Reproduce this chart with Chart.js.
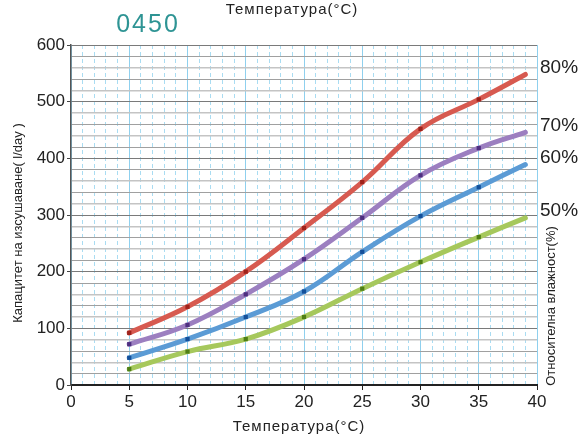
<!DOCTYPE html>
<html>
<head>
<meta charset="utf-8">
<script src="https://cdn.jsdelivr.net/npm/chart.js@4"></script>
<style>
	html, body { margin: 0; padding: 0; background: #fff; }
	#wrap { width: 582px; height: 436px; position: relative; }
</style>
</head>
<body>
<div id="wrap"><canvas id="dryChart" width="582" height="436"></canvas></div>
<script>
// Данни от графиката
const temps = [5, 10, 15, 20, 25, 30, 35, 39];
const rh80 = [92, 138, 200, 277, 358, 452, 504, 548];
const rh70 = [72, 106, 160, 222, 295, 370, 418, 446];
const rh60 = [48, 81, 120, 165, 235, 298, 349, 389];
const rh50 = [28, 59, 81, 120, 170, 217, 261, 295];
const humidityLabels = ['80%', '70%', '60%', '50%'];
const yTicks = [0, 100, 200, 300, 400, 500, 600];

const FONT = "'Liberation Sans', Arial, sans-serif";

function makeSet(label, values, color, dark) {
	return {
		label,
		data: temps.map((t, i) => ({ x: t, y: values[i] })),
		borderColor: color,
		borderWidth: 5,
		tension: 0.4,
		borderCapStyle: 'round',
		pointStyle: 'rect',
		pointRadius: values.map((v, i) => (i === values.length - 1 ? 0 : 3)),
		pointBackgroundColor: dark,
		pointBorderWidth: 0,
		fill: false,
	};
}

// dodatkowe teksty: tytuły osi, etykiety wilgotności
const textPlugin = {
	id: 'texts',
	afterDraw(chart) {
		const { ctx, chartArea, scales } = chart;
		ctx.save();
		ctx.fillStyle = '#222';
		ctx.textAlign = 'center';
		ctx.textBaseline = 'middle';

		ctx.font = '15px ' + FONT;
		ctx.letterSpacing = '1px';
		ctx.fillText('Температура(°C)', 292, 10);
		ctx.fillText('Температура(°C)', 299, 427);

		ctx.fillStyle = '#2e9494';
		ctx.font = '25px ' + FONT;
		ctx.letterSpacing = '2px';
		ctx.fillText('0450', 148, 25);

		ctx.letterSpacing = '0px';
		ctx.fillStyle = '#222';
		ctx.font = '13px ' + FONT;
		ctx.save();
		ctx.translate(18, 223);
		ctx.rotate(-Math.PI / 2);
		ctx.fillText('Капацитет на изсушаване( l/day )', 0, 0);
		ctx.restore();

		ctx.save();
		ctx.translate(551, 306);
		ctx.rotate(-Math.PI / 2);
		ctx.fillText('Относителна влажност(%)', 0, 0);
		ctx.restore();

		// etykiety % przy końcach linii
		ctx.font = '19px ' + FONT;
		ctx.textAlign = 'left';
		chart.data.datasets.forEach((ds, i) => {
			const last = ds.data[ds.data.length - 1];
			const y = scales.y.getPixelForValue(last.y) - 7;
			ctx.fillText(humidityLabels[i], chartArea.right + 3, y);
		});
		ctx.restore();
	},
};

new Chart(document.getElementById('dryChart'), {
	type: 'line',
	data: {
		datasets: [
			makeSet('80%', rh80, '#d75a50', '#9e231c'),
			makeSet('70%', rh70, '#9c7fc0', '#4e2f80'),
			makeSet('60%', rh60, '#5b9bd5', '#14509a'),
			makeSet('50%', rh50, '#a6c85c', '#4f7f16'),
		],
	},
	options: {
		responsive: false,
		animation: false,
		layout: { padding: { top: 45, right: 45, left: 0, bottom: 0 } },
		plugins: {
			legend: { display: false },
			tooltip: { enabled: false },
		},
		scales: {
			x: {
				type: 'linear',
				min: 0,
				max: 40,
				afterFit: (s) => { s.height = 51; },
				ticks: {
					stepSize: 1,
					autoSkip: false,
					maxRotation: 0,
					padding: 2,
					color: '#222',
					font: { family: FONT, size: 17 },
					callback: (v) => (v % 5 === 0 ? v : ''),
				},
				grid: {
					color: (c) => (c.tick && c.tick.value % 5 === 0 ? '#8fd0ee' : '#a9dcf2'),
					lineWidth: 1,
					tickLength: 5,
					tickColor: (c) => (c.tick && c.tick.value % 5 === 0 ? '#222' : 'rgba(0,0,0,0)'),
				},
				border: {
					color: '#222',
					width: 2,
					dash: (c) => (c.tick && c.tick.value % 5 !== 0 ? [4, 3] : []),
				},
			},
			y: {
				min: 0,
				max: 600,
				afterFit: (s) => { s.width = 71; },
				ticks: {
					stepSize: 20,
					autoSkip: false,
					padding: 2,
					color: '#222',
					font: { family: FONT, size: 17 },
					callback: (v) => (yTicks.includes(v) ? v : ''),
				},
				grid: {
					color: (c) => {
						if (!c.tick) return '#999';
						if (c.tick.value % 100 === 0) return '#7a7a7a';
						return (c.tick.value / 20) % 2 === 0 ? '#c4c4c4' : '#a0a0a0';
					},
					lineWidth: (c) => (c.tick && c.tick.value % 100 !== 0 && (c.tick.value / 20) % 2 === 0 ? 1.5 : 1),
					drawTicks: true,
					tickLength: 4,
					tickColor: (c) => (c.tick && c.tick.value % 100 === 0 ? '#444' : 'rgba(0,0,0,0)'),
				},
				border: { color: '#555', width: 1.5 },
			},
		},
	},
	plugins: [textPlugin],
});
</script>
</body>
</html>
